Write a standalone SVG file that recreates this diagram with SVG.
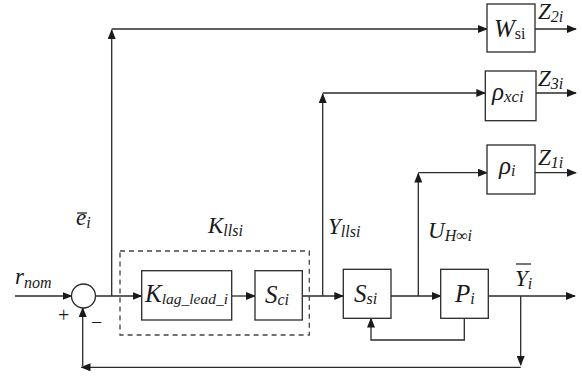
<svg xmlns="http://www.w3.org/2000/svg" width="582" height="376" viewBox="0 0 582 376">
<defs>
<marker id="ah" markerWidth="10" markerHeight="8" refX="9" refY="4" orient="auto" markerUnits="userSpaceOnUse">
<path d="M0,0 L10,4 L0,8 Z" fill="#1a1a1a"/>
</marker>
<style>
.ln{fill:none;stroke:#2a2a2a;stroke-width:1.3}
.ar{fill:none;stroke:#2a2a2a;stroke-width:1.3;marker-end:url(#ah)}
.box{fill:#fff;stroke:#2a2a2a;stroke-width:1.3}
.dash{fill:none;stroke:#444;stroke-width:1.3;stroke-dasharray:5,4}
.t{font-family:"Liberation Serif","Times New Roman",serif;font-style:italic;fill:#1a1a1a}
.L{font-size:23px}
.B{font-size:25px}
.s{font-size:16px}
.r{font-style:normal}
.sg{font-family:"Liberation Serif",serif;font-size:20px;fill:#1a1a1a}
</style>
</defs>

<g id="connectors">
<path class="ar" d="M15,296 H71.5"/>
<path class="ar" d="M95,296 H141.5"/>
<path class="ar" d="M111.7,296 V30"/>
<path class="ar" d="M111.7,29 H487"/>
<path class="ar" d="M231.7,296 H255"/>
<path class="ar" d="M302.3,296 H343.3"/>
<path class="ar" d="M322.7,296 V94"/>
<path class="ar" d="M322.7,93 H485.3"/>
<path class="ar" d="M391,296 H440.7"/>
<path class="ar" d="M418.3,296 V173.5"/>
<path class="ar" d="M418.3,172.7 H487"/>
<path class="ar" d="M488.3,296 H575"/>
<path class="ar" d="M520.7,296 V365"/>
<path class="ar" d="M520.7,367.3 H81.5"/>
<path class="ar" d="M82.7,366 V308"/>
<path class="ar" d="M464.3,318.3 V340 H371 V318.5"/>
<path class="ar" d="M535,29 H576"/>
<path class="ar" d="M536,93 H576"/>
<path class="ar" d="M535,172.7 H576"/>
</g>

<g id="sum">
<circle cx="83.5" cy="296" r="12" fill="#fff" stroke="#2a2a2a" stroke-width="1.3"/>
<text class="sg" x="58" y="322">+</text>
<text class="sg" x="91" y="329">−</text>
</g>

<g id="kllsi">
<rect class="dash" x="120" y="251" width="189.3" height="84"/>
<text class="t L" x="208" y="233">K<tspan class="s" dy="3">llsi</tspan></text>
</g>

<g id="klaglead">
<rect class="box" x="141.7" y="270.7" width="90" height="49.3"/>
<text class="t B" x="145" y="302">K<tspan class="s" dy="2" style="font-size:15.5px">lag_lead_i</tspan></text>
</g>

<g id="sci">
<rect class="box" x="255" y="270.7" width="47.3" height="49.3"/>
<text class="t B" x="265" y="303">S<tspan class="s" dy="2">ci</tspan></text>
</g>

<g id="ssi">
<rect class="box" x="343.3" y="269.3" width="47.7" height="49"/>
<text class="t B" x="354" y="302">S<tspan class="s" dy="2">si</tspan></text>
</g>

<g id="pi">
<rect class="box" x="440.7" y="269.3" width="47.6" height="49"/>
<text class="t B" x="455" y="302">P<tspan class="s" dy="2">i</tspan></text>
</g>

<g id="wsi">
<rect class="box" x="487" y="4" width="48" height="48"/>
<text class="t B" x="494" y="37">W<tspan class="s r" dy="2">si</tspan></text>
</g>

<g id="rhoxci">
<rect class="box" x="485.3" y="71" width="50.7" height="49.7"/>
<text class="t B" x="492" y="100">ρ<tspan class="s" dy="2" style="font-size:17px">xci</tspan></text>
</g>

<g id="rhoi">
<rect class="box" x="487" y="145" width="48" height="49"/>
<text class="t B" x="499" y="174">ρ<tspan class="s" dy="2">i</tspan></text>
</g>

<g id="labels">
<text class="t L" x="15" y="284">r<tspan class="s" dy="4">nom</tspan></text>
<text class="t L" x="76" y="225">e<tspan class="s" dy="3">i</tspan></text>
<path class="ln" d="M77,213 H87"/>
<text class="t L" x="328" y="234">Y<tspan class="s" dy="3">llsi</tspan></text>
<text class="t L" x="428" y="238">U<tspan class="s" dy="3">H∞i</tspan></text>
<text class="t L" x="515" y="286">Y<tspan class="s" dy="3">i</tspan></text>
<path class="ln" d="M516,264 H531"/>
<text class="t L" x="538" y="19">Z<tspan class="s" dy="3">2i</tspan></text>
<text class="t L" x="538" y="86">Z<tspan class="s" dy="3">3i</tspan></text>
<text class="t L" x="538" y="165">Z<tspan class="s" dy="3">1i</tspan></text>
</g>
</svg>
